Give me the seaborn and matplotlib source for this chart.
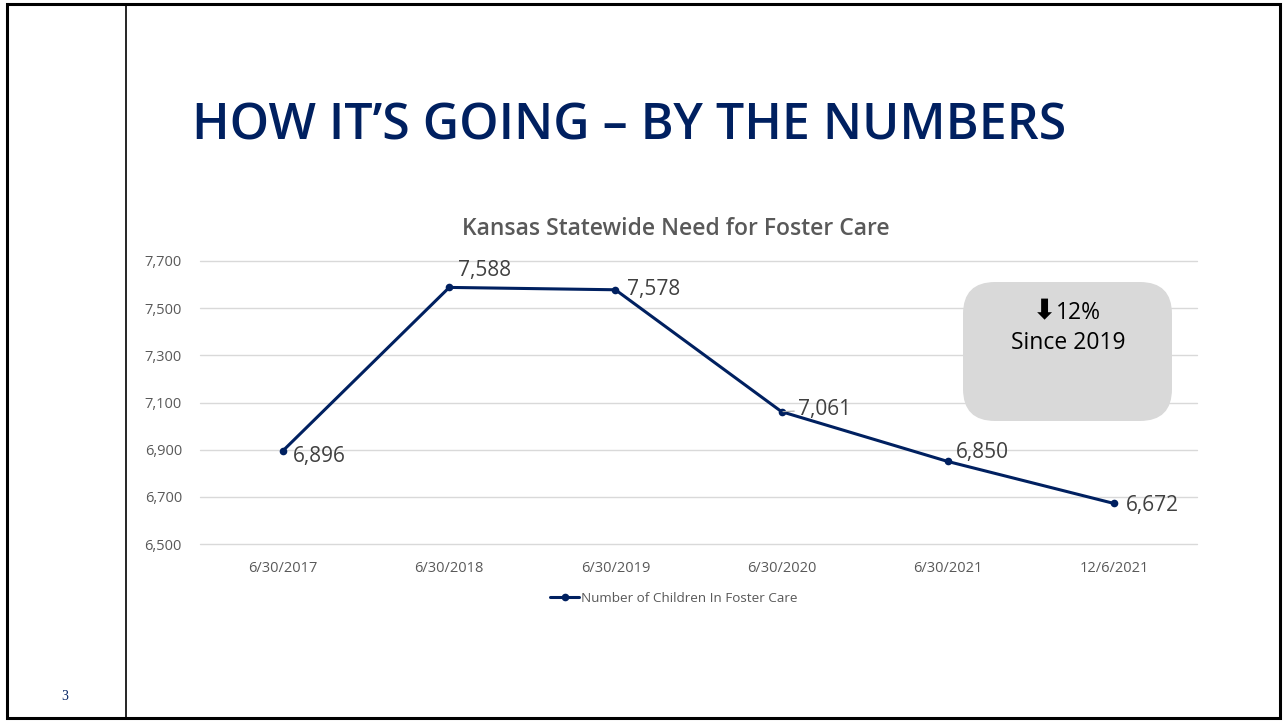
import matplotlib
matplotlib.use("Agg")
import matplotlib.pyplot as plt
import seaborn as sns
import pandas as pd
from matplotlib.patches import FancyBboxPatch, Rectangle
from matplotlib.lines import Line2D

# ---- data ----
dates = ["6/30/2017", "6/30/2018", "6/30/2019", "6/30/2020", "6/30/2021", "12/6/2021"]
children = [6896, 7588, 7578, 7061, 6850, 6672]
yticks = [6500, 6700, 6900, 7100, 7300, 7500, 7700]

NAVY = "#002060"
GRAY = "#595959"

sns.set_theme(style="white")
plt.rcParams["font.family"] = ["Open Sans", "DejaVu Sans"]

fig = plt.figure(figsize=(12.83, 7.21), dpi=100)
W, H = 1283, 721

def fx(px):
    return px / W

def fy(py):
    return 1 - py / H

# slide border and divider
fig.add_artist(Rectangle((fx(7), fy(718)), fx(1280) - fx(7), fy(4) - fy(718),
                         transform=fig.transFigure, fill=False, edgecolor="black", lw=2.2))
fig.add_artist(Line2D([fx(126), fx(126)], [fy(4), fy(718)], transform=fig.transFigure,
                      color="black", lw=1.2))

# slide title
fig.text(fx(192), fy(126), "HOW IT\u2019S GOING \u2013 BY THE NUMBERS", color=NAVY,
         fontsize=36, fontfamily=["Open Sans", "DejaVu Sans"], fontweight="semibold",
         ha="left", va="center")
# page number
fig.text(fx(65), fy(697), "3", color=NAVY, fontsize=10,
         fontfamily=["Liberation Serif", "DejaVu Serif"], ha="center", va="center")

# chart title
fig.text(fx(676), fy(229), "Kansas Statewide Need for Foster Care", color=GRAY,
         fontsize=16.5, fontfamily=["Open Sans", "DejaVu Sans"], fontweight="semibold",
         ha="center", va="center")

ax = fig.add_axes([fx(200), fy(544), fx(1197) - fx(200), fy(261) - fy(544)])
df = pd.DataFrame({"date": dates, "children": children})
sns.lineplot(data=df, x="date", y="children", sort=False, ax=ax, color=NAVY,
             lw=2.2, marker="o", markersize=5.5, markeredgewidth=0,
             label="Number of Children In Foster Care")

ax.set_xlim(-0.5, len(dates) - 0.5)
ax.set_ylim(yticks[0], yticks[-1])
ax.set_yticks(yticks)
ax.set_yticklabels([f"{v:,}" for v in yticks])
ax.set_xlabel("")
ax.set_ylabel("")
ax.grid(axis="y", color="#D9D9D9", lw=1)
ax.grid(axis="x", visible=False)
for gl in ax.get_ygridlines():
    gl.set_clip_on(False)
for s in ax.spines.values():
    s.set_visible(False)
ax.tick_params(axis="both", length=0, labelsize=10.5, labelcolor=GRAY)
ax.tick_params(axis="y", pad=13)
ax.tick_params(axis="x", pad=12)
ax.set_axisbelow(True)

# data labels
offsets = [(7.2, -4.3), (6.5, 12.5), (8, 0), (11.5, 1.4), (5.8, 6.5), (8.6, -1.4)]
for i, (v, off) in enumerate(zip(children, offsets)):
    kw = {}
    if i == 3:
        kw["arrowprops"] = dict(arrowstyle="-", color="#A6A6A6", lw=0.8,
                                shrinkA=0, shrinkB=1)
    ax.annotate(f"{v:,}", (i, v), xytext=off, textcoords="offset points",
                ha="left", va="center", fontsize=15, color="#404040", **kw)

leg = ax.legend(loc="upper center", bbox_to_anchor=(0.475, -0.125), frameon=False,
                fontsize=9.7, handlelength=2.2, handletextpad=0.1)
for t in leg.get_texts():
    t.set_color(GRAY)

# callout box
box = FancyBboxPatch((fx(963), fy(421)), fx(1172) - fx(963), fy(282) - fy(421),
                     boxstyle="round,pad=0,rounding_size=0.025",
                     transform=fig.transFigure, facecolor="#D9D9D9", edgecolor="none",
                     mutation_aspect=W / H)
fig.add_artist(box)
fig.text(fx(1056), fy(311), "\u2b07", color="black", fontsize=20, fontweight="bold",
         fontfamily=["DejaVu Sans"], ha="right", va="center")
fig.text(fx(1056), fy(313), "12%", color="black", fontsize=16.5, ha="left", va="center")
fig.text(fx(1068), fy(343), "Since 2019", color="black", fontsize=16.5, ha="center", va="center")

fig.savefig("out.png", dpi=100)
